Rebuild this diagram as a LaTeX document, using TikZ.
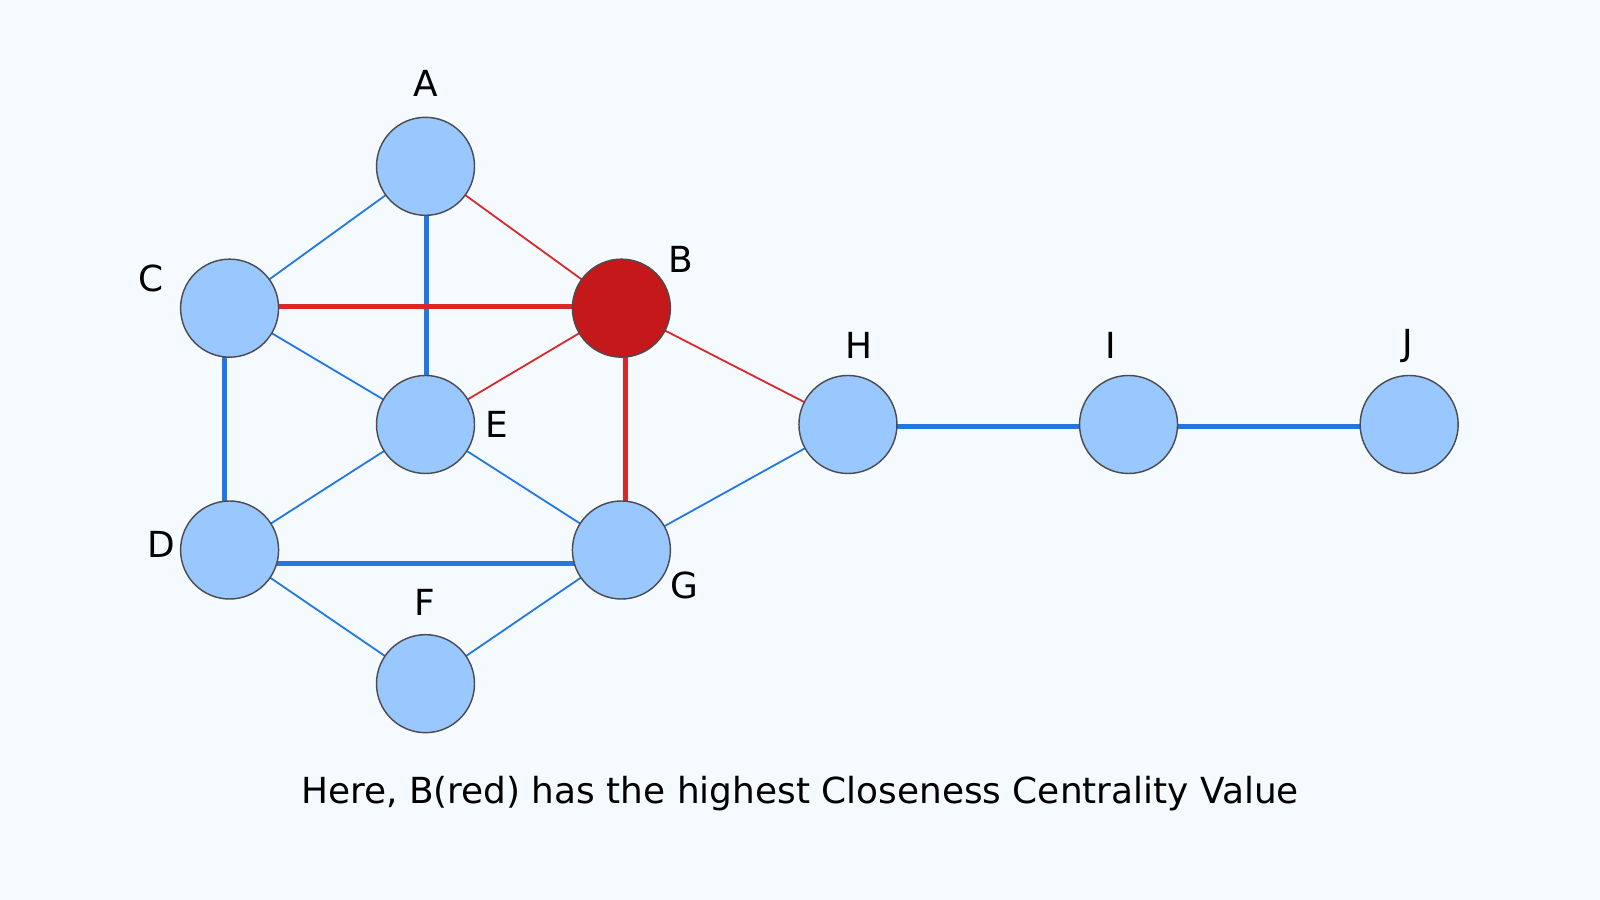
\documentclass[tikz,border=0pt]{standalone}
\usepackage{fontspec}
\setmainfont{DejaVu Sans}
\definecolor{bgcol}{HTML}{F5FAFF}
\definecolor{nodecol}{HTML}{99C7FF}
\definecolor{redcol}{HTML}{C4181B}
\definecolor{edgeblue}{HTML}{2277E0}
\definecolor{edgered}{HTML}{D9282A}

\begin{document}
\begin{tikzpicture}[x=0.01cm,y=-0.01cm,
    vert/.style={shape=circle, minimum size=0.96cm, inner sep=0pt, draw=black!70, fill=nodecol},
    hub/.style={vert, fill=redcol},
    lbl/.style={font=\fontsize{10}{12}\selectfont},
    thinb/.style={edgeblue, line width=0.5pt},
    thickb/.style={edgeblue, line width=1.4pt},
    thinr/.style={edgered, line width=0.5pt},
    thickr/.style={edgered, line width=1.4pt}]
    \fill[bgcol] (0,0) rectangle (1568,882);

    \draw[thinb] (417,163) -- (225,302);
    \draw[thickb] (418,163) -- (418,416);
    \draw[thinr] (417,163) -- (609,302);
    \draw[thickr] (225,300) -- (609,300);
    \draw[thinb] (225,302) -- (417,416);
    \draw[thickb] (220,302) -- (220,539);
    \draw[thinr] (417,416) -- (609,302);
    \draw[thickr] (613,302) -- (613,539);
    \draw[thinr] (609,302) -- (831,416);
    \draw[thinb] (417,416) -- (225,539);
    \draw[thinb] (417,416) -- (609,539);
    \draw[thickb] (225,552) -- (609,552);
    \draw[thinb] (225,539) -- (417,670);
    \draw[thinb] (417,670) -- (609,539);
    \draw[thinb] (609,539) -- (831,416);
    \draw[thickb] (831,418) -- (1381,418);

    \node[vert] (A) at (417,163) {};
    \node[hub] (B) at (609,302) {};
    \node[vert] (C) at (225,302) {};
    \node[vert] (D) at (225,539) {};
    \node[vert] (E) at (417,416) {};
    \node[vert] (F) at (417,670) {};
    \node[vert] (G) at (609,539) {};
    \node[vert] (H) at (831,416) {};
    \node[vert] (I) at (1106,416) {};
    \node[vert] (J) at (1381,416) {};

    \node[lbl] (lA) at (417,82) {A};
    \node[lbl] (lB) at (667,254) {B};
    \node[lbl] (lC) at (148,273) {C};
    \node[lbl] (lD) at (158,534) {D};
    \node[lbl] (lE) at (487,416) {E};
    \node[lbl] (lF) at (416,590) {F};
    \node[lbl] (lG) at (671,574) {G};
    \node[lbl] (lH) at (842,339) {H};
    \node[lbl] (lI) at (1089,339) {I};
    \node[lbl] (lJ) at (1380,339) {J};

    \node[lbl] (cap) at (784,778) {Here, B(red) has the highest Closeness Centrality Value};
\end{tikzpicture}
\end{document}
